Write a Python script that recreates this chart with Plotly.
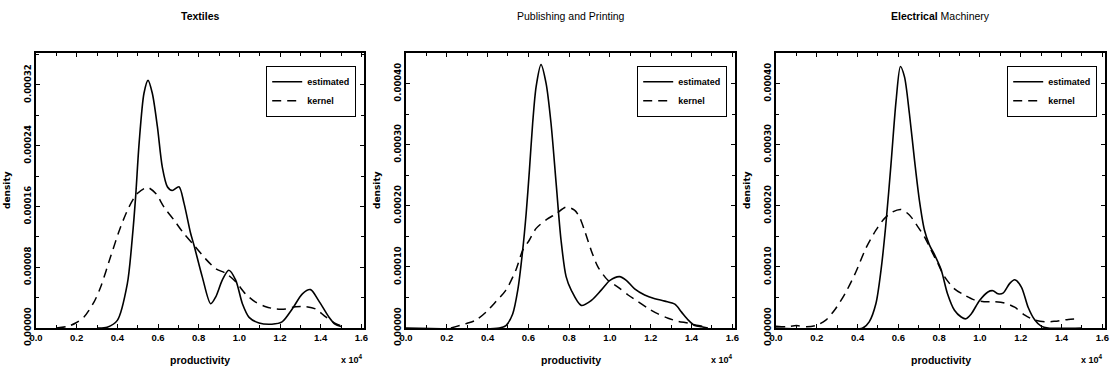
import numpy as np
import plotly.graph_objects as go

# ---------------- data (x in units of 10^4, density in units of 1e-5) ----------------
TITLES = ["<b>Textiles</b>", "Publishing and Printing", "<b>Electrical</b> Machinery"]
SERIES_NAMES = ["estimated", "kernel"]

TEX_EST_X = [0.30, 0.35, 0.40, 0.449, 0.474, 0.49, 0.507, 0.531, 0.551, 0.572, 0.597, 0.621, 0.646, 0.67,
             0.703, 0.728, 0.76, 0.777, 0.818, 0.859, 0.884, 0.916, 0.948, 0.982, 1.015, 1.048, 1.097,
             1.16, 1.21, 1.26, 1.31, 1.35, 1.39, 1.44, 1.47, 1.50]
TEX_EST_Y = [0.0, 0.1, 1.0, 5.8, 12.0, 17.3, 24.3, 30.9, 32.6, 30.9, 26.5, 21.2, 18.6, 18.1,
             18.6, 16.4, 12.5, 10.9, 6.7, 3.2, 4.1, 6.3, 7.6, 6.3, 3.2, 1.4, 0.66,
             0.5, 0.8, 2.5, 4.5, 5.05, 3.6, 1.45, 0.5, 0.2]
TEX_KER_X = [0.10, 0.154, 0.195, 0.236, 0.285, 0.318, 0.367, 0.416, 0.457, 0.498, 0.548, 0.589, 0.63,
             0.679, 0.728, 0.777, 0.834, 0.884, 0.933, 0.982, 1.03, 1.08, 1.13, 1.18, 1.228, 1.277,
             1.326, 1.375, 1.425, 1.474, 1.50]
TEX_KER_Y = [0.0, 0.2, 0.66, 1.45, 3.4, 5.4, 9.4, 13.3, 15.9, 17.7, 18.5, 17.7, 15.9,
             14.2, 12.4, 10.9, 9.1, 7.8, 7.2, 6.1, 4.5, 3.4, 2.8, 2.5, 2.5, 2.8,
             2.8, 2.5, 1.45, 0.57, 0.3]

PUB_EST_X = [0.0, 0.457, 0.49, 0.523, 0.548, 0.572, 0.589, 0.605, 0.621, 0.638, 0.662, 0.687, 0.711,
             0.736, 0.76, 0.785, 0.81, 0.859, 0.908, 0.957, 1.0, 1.047, 1.08, 1.121, 1.17, 1.22,
             1.269, 1.318, 1.351, 1.384, 1.416, 1.449, 1.48]
PUB_EST_Y = [0.0, 0.0, 0.4, 2.3, 6.2, 12.7, 18.7, 25.8, 33.5, 39.5, 43.1, 40.0, 33.5,
             23.7, 14.4, 8.4, 6.2, 3.7, 4.5, 6.2, 7.8, 8.4, 7.8, 6.4, 5.4, 4.8,
             4.4, 3.9, 2.6, 1.3, 0.4, 0.2, 0.0]
PUB_KER_X = [0.22, 0.293, 0.343, 0.392, 0.44, 0.49, 0.539, 0.572, 0.605, 0.638, 0.687, 0.736, 0.785,
             0.826, 0.85, 0.875, 0.908, 0.941, 0.99, 1.039, 1.089, 1.138, 1.187, 1.236, 1.285,
             1.334, 1.384, 1.433, 1.482]
PUB_KER_Y = [0.0, 0.7, 1.3, 2.6, 4.3, 6.2, 9.5, 12.7, 14.4, 16.3, 17.7, 18.7, 19.8,
             19.3, 18.2, 16.0, 12.7, 10.0, 7.8, 6.7, 5.4, 4.3, 3.2, 2.3, 1.6,
             1.1, 0.8, 0.4, 0.2]

ELE_EST_X = [0.0, 0.425, 0.457, 0.49, 0.515, 0.539, 0.564, 0.589, 0.61, 0.63, 0.654, 0.679, 0.703,
             0.728, 0.752, 0.777, 0.81, 0.84, 0.875, 0.908, 0.93, 0.957, 0.998, 1.039, 1.064,
             1.089, 1.113, 1.146, 1.17, 1.203, 1.236, 1.269, 1.30, 1.334, 1.50]
ELE_EST_Y = [0.0, 0.0, 1.0, 4.0, 9.5, 17.1, 26.9, 37.3, 42.8, 41.1, 35.1, 27.5, 20.9,
             16.0, 13.6, 12.0, 9.5, 5.7, 2.9, 1.8, 1.5, 2.3, 4.5, 5.9, 6.1,
             5.6, 5.7, 7.3, 7.9, 6.7, 3.4, 1.3, 0.3, 0.0, 0.0]
ELE_KER_X = [0.0, 0.05, 0.10, 0.15, 0.195, 0.244, 0.293, 0.343, 0.392, 0.44, 0.49, 0.531, 0.572,
             0.613, 0.654, 0.695, 0.728, 0.761, 0.793, 0.826, 0.875, 0.923, 0.972, 1.02, 1.07,
             1.12, 1.17, 1.22, 1.269, 1.318, 1.367, 1.433, 1.482]
ELE_KER_Y = [0.3, 0.2, 0.4, 0.2, 0.4, 1.3, 3.2, 5.9, 9.2, 13.0, 16.0, 17.9, 19.0,
             19.4, 18.5, 16.6, 14.9, 12.7, 10.6, 8.4, 6.4, 5.4, 4.6, 4.3, 4.3,
             4.1, 3.4, 2.1, 1.3, 1.0, 1.1, 1.4, 1.5]

Y_TOPS = [0.000362, 0.00045, 0.00045]
Y_MAJOR = [0.00008, 0.0001, 0.0001]
X_TICKS = [0.0, 0.2, 0.4, 0.6, 0.8, 1.0, 1.2, 1.4, 1.6]

# ---------------- figure ----------------
W, H = 1112, 371
LEFTS = [36, 406, 776]
RIGHTS = [364, 735, 1105]
TOP_PX, BOT_PX = 53, 328

panels = [
    (TEX_EST_X, TEX_EST_Y, TEX_KER_X, TEX_KER_Y),
    (PUB_EST_X, PUB_EST_Y, PUB_KER_X, PUB_KER_Y),
    (ELE_EST_X, ELE_EST_Y, ELE_KER_X, ELE_KER_Y),
]

fig = go.Figure()
TICKFONT_X = dict(family="Liberation Sans", size=9.5, color="black", weight="bold")
TICKFONT_Y = dict(family="DejaVu Sans", size=8.5, color="black", weight="bold")

annotations = []
for i, (ex, ey, kx, ky) in enumerate(panels):
    sfx = "" if i == 0 else str(i + 1)
    xa, ya = "x" + sfx, "y" + sfx
    leg = "legend" + sfx
    fig.add_trace(go.Scatter(x=ex, y=np.array(ey) * 1e-5, mode="lines", name=SERIES_NAMES[0],
                             line=dict(color="black", width=1.6, shape="spline", smoothing=0.8),
                             xaxis=xa, yaxis=ya, legend=leg))
    fig.add_trace(go.Scatter(x=kx, y=np.array(ky) * 1e-5, mode="lines", name=SERIES_NAMES[1],
                             line=dict(color="black", width=1.5, dash="9px,6px", shape="spline", smoothing=0.8),
                             xaxis=xa, yaxis=ya, legend=leg))
    d0, d1 = LEFTS[i] / W, RIGHTS[i] / W
    common = dict(showline=True, linecolor="black", linewidth=1.5, mirror="allticks",
                  ticks="inside", ticklen=4, tickwidth=1, tickcolor="black",
                  showgrid=False, zeroline=False, automargin=False)
    fig.layout["xaxis" + sfx] = dict(domain=[d0, d1], range=[0, 1.613], anchor=ya,
                                     tickvals=X_TICKS, tickformat=".1f", tickfont=TICKFONT_X,
                                     minor=dict(ticks="inside", dtick=0.1, ticklen=3, tickcolor="black"),
                                     **common)
    fig.layout["yaxis" + sfx] = dict(domain=[(H - BOT_PX) / H, (H - TOP_PX) / H], range=[0, Y_TOPS[i]],
                                     anchor=xa, dtick=Y_MAJOR[i], tick0=0, tickformat=".5f",
                                     tickangle=-90, tickfont=TICKFONT_Y,
                                     minor=dict(ticks="inside", dtick=Y_MAJOR[i] / 2, ticklen=3, tickcolor="black"),
                                     **common)
    fig.layout[leg] = dict(x=(RIGHTS[i] - 8) / W, xanchor="right", y=(H - 66) / H, yanchor="top",
                           bordercolor="black", borderwidth=1.2, bgcolor="white",
                           font=dict(family="Liberation Sans", size=9, color="black", weight="bold"),
                           tracegroupgap=0, itemwidth=30)
    cx = (LEFTS[i] + RIGHTS[i]) / 2
    annotations.append(dict(text=TITLES[i], x=cx / W, y=(H - 16) / H, xref="paper", yref="paper",
                            xanchor="center", yanchor="middle", showarrow=False,
                            font=dict(family="Liberation Sans", size=10.5, color="black")))
    annotations.append(dict(text="<b>productivity</b>", x=cx / W, y=(H - 360) / H, xref="paper", yref="paper",
                            xanchor="center", yanchor="middle", showarrow=False,
                            font=dict(family="Liberation Sans", size=10.5, color="black")))
    annotations.append(dict(text="<b>x 10<sup>4</sup></b>", x=(LEFTS[i] + 316) / W, y=(H - 359) / H,
                            xanchor="center", yanchor="middle",
                            xref="paper", yref="paper", showarrow=False,
                            font=dict(family="Liberation Sans", size=9, color="black")))
    annotations.append(dict(text="<b>density</b>", x=(LEFTS[i] - 29) / W, y=(H - 190) / H, xref="paper",
                            yref="paper", xanchor="center", yanchor="middle", showarrow=False, textangle=-90,
                            font=dict(family="DejaVu Sans", size=9, color="black")))

fig.update_layout(width=W, height=H, margin=dict(l=0, r=0, t=0, b=0),
                  paper_bgcolor="white", plot_bgcolor="white", annotations=annotations,
                  showlegend=True)
fig.write_html("out.html")
